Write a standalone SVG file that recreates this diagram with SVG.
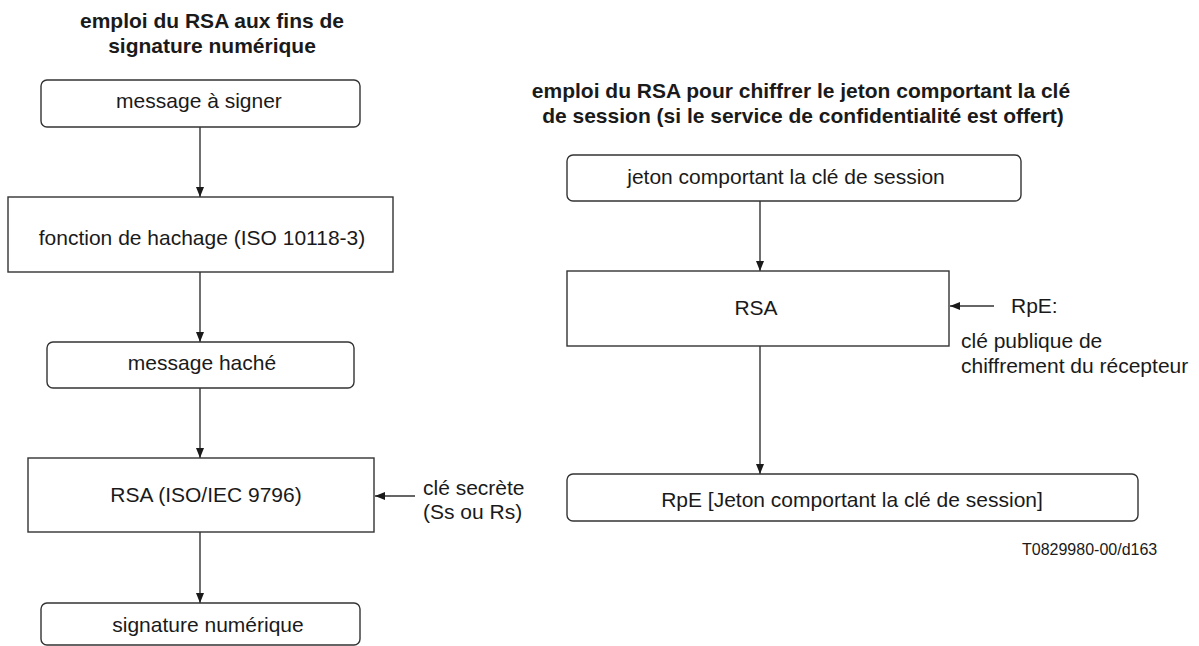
<svg xmlns="http://www.w3.org/2000/svg" width="1199" height="646" viewBox="0 0 1199 646">
<defs>
<style>
.t{font-family:"Liberation Sans",Arial,sans-serif;font-size:21px;fill:#1a1a1a}
.b{font-weight:bold;text-anchor:middle}
.c{text-anchor:middle}
.box{fill:#fff;stroke:#333;stroke-width:1.4}
.ln{stroke:#333;stroke-width:1.4;fill:none;marker-end:url(#ah)}
.id{font-family:"Liberation Sans",Arial,sans-serif;font-size:16px;fill:#1a1a1a}
</style>
<marker id="ah" viewBox="0 0 10 10" refX="10" refY="5" markerWidth="10" markerHeight="10" markerUnits="userSpaceOnUse" orient="auto">
<path d="M0,1 L10,5 L0,9 Z" fill="#1a1a1a"/>
</marker>
</defs>
<rect width="1199" height="646" fill="#fff"/>

<g id="title-left">
<text class="t b" x="212" y="28">emploi du RSA aux fins de</text>
<text class="t b" x="212" y="53">signature numérique</text>
</g>
<g id="title-right">
<text class="t b" x="801" y="98">emploi du RSA pour chiffrer le jeton comportant la clé</text>
<text class="t b" x="803" y="123">de session (si le service de confidentialité est offert)</text>
</g>

<g id="connectors">
<line class="ln" x1="200" y1="127" x2="200" y2="197"/>
<line class="ln" x1="200" y1="272" x2="200" y2="342"/>
<line class="ln" x1="200" y1="388" x2="200" y2="458"/>
<line class="ln" x1="200" y1="532" x2="200" y2="603"/>
<line class="ln" x1="415" y1="496" x2="375" y2="496"/>
<line class="ln" x1="760" y1="201" x2="760" y2="271"/>
<line class="ln" x1="760" y1="346" x2="760" y2="474"/>
<line class="ln" x1="994" y1="306" x2="950" y2="306"/>
</g>

<g id="n-message">
<rect class="box" x="41" y="80" width="319" height="47" rx="6"/>
<text class="t c" x="199" y="108">message à signer</text>
</g>
<g id="n-hachage">
<rect class="box" x="8" y="197" width="385" height="75"/>
<text class="t c" x="202" y="245">fonction de hachage (ISO 10118-3)</text>
</g>
<g id="n-hache">
<rect class="box" x="47" y="342" width="307" height="46" rx="6"/>
<text class="t c" x="202" y="370">message haché</text>
</g>
<g id="n-rsa-left">
<rect class="box" x="28" y="458" width="346" height="74"/>
<text class="t c" x="206" y="502">RSA (ISO/IEC 9796)</text>
</g>
<g id="n-cle-secrete">
<text class="t" x="423" y="495">clé secrète</text>
<text class="t" x="423" y="519">(Ss ou Rs)</text>
</g>
<g id="n-signature">
<rect class="box" x="41" y="603" width="319" height="42" rx="6"/>
<text class="t c" x="208" y="632">signature numérique</text>
</g>

<g id="n-jeton">
<rect class="box" x="567" y="155" width="454" height="46" rx="6"/>
<text class="t c" x="786" y="184">jeton comportant la clé de session</text>
</g>
<g id="n-rsa-right">
<rect class="box" x="567" y="271" width="382" height="75"/>
<text class="t c" x="756" y="315">RSA</text>
</g>
<g id="n-rpe">
<text class="t" x="1011" y="313">RpE:</text>
<text class="t" x="961" y="348">clé publique de</text>
<text class="t" x="961" y="373">chiffrement du récepteur</text>
</g>
<g id="n-result">
<rect class="box" x="567" y="474" width="571" height="47" rx="6"/>
<text class="t c" x="852" y="507">RpE [Jeton comportant la clé de session]</text>
</g>
<text class="id" x="1022" y="555">T0829980-00/d163</text>
</svg>
